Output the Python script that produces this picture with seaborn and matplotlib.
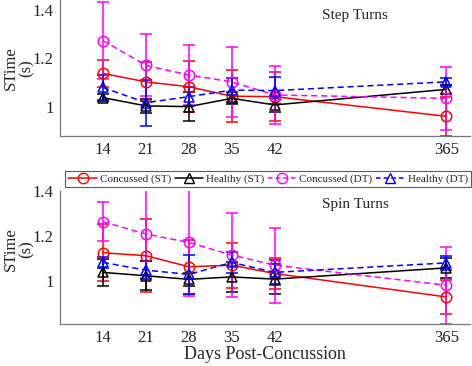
import numpy as np
import pandas as pd
import matplotlib
matplotlib.use("Agg")
import matplotlib.pyplot as plt
from matplotlib.lines import Line2D
import seaborn as sns

# ---------------- data ----------------
days = ["14", "21", "28", "35", "42", "365"]
series = ["Concussed (ST)", "Healthy (ST)", "Concussed (DT)", "Healthy (DT)"]

# Step Turns
step_conc_st = [1.138, 1.103, 1.083, 1.044, 1.042, 0.961]
step_conc_st_sd = [0.057, 0.080, 0.106, 0.107, 0.100, 0.080]
step_heal_st = [1.038, 1.004, 1.001, 1.035, 1.008, 1.072]
step_heal_st_sd = [0.015, 0.030, 0.060, 0.025, 0.030, 0.020]
step_conc_dt = [1.273, 1.171, 1.131, 1.103, 1.049, 1.035]
step_conc_dt_sd = [0.158, 0.127, 0.122, 0.143, 0.120, 0.130]
step_heal_dt = [1.080, 1.017, 1.042, 1.069, 1.067, 1.103]
step_heal_dt_sd = [0.050, 0.095, 0.040, 0.050, 0.057, 0.015]

# Spin Turns
spin_conc_st = [1.126, 1.113, 1.064, 1.071, 1.034, 0.930]
spin_conc_st_sd = [0.126, 0.163, 0.120, 0.100, 0.070, 0.075]
spin_heal_st = [1.039, 1.024, 1.008, 1.019, 1.009, 1.059]
spin_heal_st_sd = [0.060, 0.065, 0.030, 0.066, 0.068, 0.045]
spin_conc_dt = [1.264, 1.209, 1.172, 1.116, 1.071, 0.982]
spin_conc_dt_sd = [0.088, 0.195, 0.237, 0.185, 0.166, 0.170]
spin_heal_dt = [1.083, 1.049, 1.030, 1.083, 1.039, 1.081]
spin_heal_dt_sd = [0.025, 0.040, 0.086, 0.045, 0.055, 0.030]

# ---------------- layout / style ----------------
day_pos = [0, 1, 2, 3, 4, 8]
colors = {"Concussed (ST)": "#ff0000", "Healthy (ST)": "#000000",
          "Concussed (DT)": "#ff00ff", "Healthy (DT)": "#0000ff"}
markers = {"Concussed (ST)": "o", "Healthy (ST)": "^",
           "Concussed (DT)": "o", "Healthy (DT)": "^"}
dashes = {"Concussed (ST)": "", "Healthy (ST)": "",
          "Concussed (DT)": (4, 2.5), "Healthy (DT)": (4, 2.5)}

sns.set_style("white")
plt.rcParams["font.family"] = ["Liberation Serif", "DejaVu Serif"]

fig = plt.figure(figsize=(4.72, 3.66), dpi=100)
ax_top = fig.add_axes([60 / 472, 1 - 136 / 366, 410 / 472, 136 / 366])
ax_bot = fig.add_axes([60 / 472, 1 - 324 / 366, 410 / 472, 133 / 366])


def make_df(vals, sds):
    rows = []
    for s, v, e in zip(series, vals, sds):
        for d, p, vv, ee in zip(days, day_pos, v, e):
            rows.append({"day": d, "pos": p, "series": s, "stime": vv, "sd": ee})
    return pd.DataFrame(rows)


panels = [
    (ax_top, make_df([step_conc_st, step_heal_st, step_conc_dt, step_heal_dt],
                     [step_conc_st_sd, step_heal_st_sd, step_conc_dt_sd, step_heal_dt_sd]),
     "Step Turns", (0.88, 1.44), 0.885, 0.5),
    (ax_bot, make_df([spin_conc_st, spin_heal_st, spin_conc_dt, spin_heal_dt],
                     [spin_conc_st_sd, spin_heal_st_sd, spin_conc_dt_sd, spin_heal_dt_sd]),
     "Spin Turns", (0.81, 1.40), 0.9, 0.56),
]

for ax, df, title, ylim, ty, ly in panels:
    for s in series:
        sub = df[df.series == s]
        ax.errorbar(sub.pos, sub.stime, yerr=sub.sd, fmt="none",
                    ecolor=colors[s], elinewidth=1.1, capsize=4, capthick=1.1,
                    zorder=2)
    sns.lineplot(data=df, x="pos", y="stime", hue="series", style="series",
                 hue_order=series, style_order=series, palette=colors,
                 markers=markers, dashes=dashes, ax=ax, legend=False,
                 linewidth=1.1, markersize=7.5, markerfacecolor="none",
                 markeredgewidth=1.1, zorder=3)
    for line, s in zip(ax.get_lines()[-len(series):], series):
        line.set_markeredgecolor(colors[s])
        line.set_markerfacecolor("none")
    ax.set_xlim(-1, 8.55)
    ax.set_ylim(*ylim)
    ax.set_xticks(day_pos)
    ax.set_xticklabels(days)
    ax.set_yticks([1.0, 1.2, 1.4])
    ax.set_yticklabels(["1", "1.2", "1.4"])
    ax.tick_params(direction="in", length=3, labelsize=12, width=0.8, pad=4.5,
                   colors="#777777", labelcolor="#222222")
    for sp in ["top", "right"]:
        ax.spines[sp].set_visible(False)
    for sp in ["left", "bottom"]:
        ax.spines[sp].set_color("#777777")
        ax.spines[sp].set_linewidth(0.9)
    ax.set_xlabel("")
    ax.set_ylabel("STime\n(s)", fontsize=12, linespacing=1.0)
    ax.yaxis.set_label_coords(-0.061, ly)
    ax.text(0.72, ty, title, transform=ax.transAxes,
            ha="center", va="center", fontsize=11)

ax_bot.set_xlabel("Days Post-Concussion", fontsize=13, labelpad=0)

handles = [Line2D([0], [0], color=colors[s], marker=markers[s], markersize=7.5,
                  markerfacecolor="none", markeredgecolor=colors[s],
                  linewidth=1.1, linestyle="-" if dashes[s] == "" else (0, (3, 2)))
           for s in series]
leg = fig.legend(handles, series, loc="center", ncol=4,
                 bbox_to_anchor=(268 / 472, 1 - 179 / 366), fontsize=8,
                 frameon=True, fancybox=False, edgecolor="#333333",
                 handlelength=2.6, handletextpad=0.25, columnspacing=0.3,
                 borderpad=0.3, borderaxespad=0)
leg.get_frame().set_linewidth(0.8)

fig.savefig("out.png", dpi=100)
